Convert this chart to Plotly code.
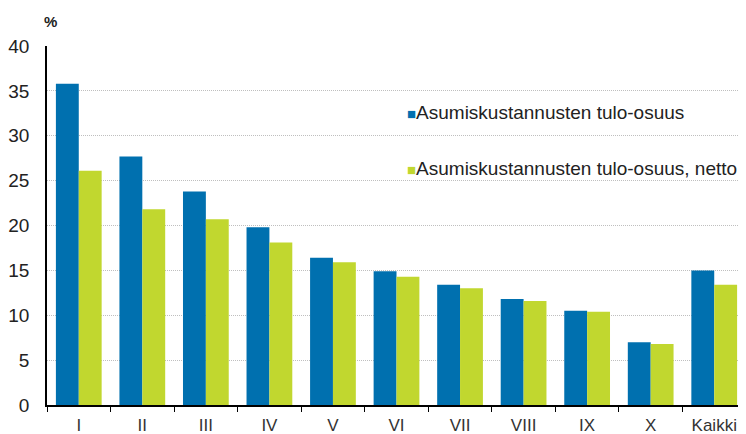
import plotly.graph_objects as go

categories = ["I", "II", "III", "IV", "V", "VI", "VII", "VIII", "IX", "X", "Kaikki"]
gross_share = [35.8, 27.7, 23.8, 19.8, 16.4, 14.9, 13.4, 11.8, 10.5, 7.0, 15.0]
net_share = [26.1, 21.8, 20.7, 18.1, 15.9, 14.3, 13.0, 11.6, 10.4, 6.8, 13.4]
series_names = ["Asumiskustannusten tulo-osuus", "Asumiskustannusten tulo-osuus, netto"]
y_ticks = [0, 5, 10, 15, 20, 25, 30, 35, 40]

BLUE = "#0070AF"
GREEN = "#C1D72F"
FONT = "Liberation Sans, Arial, sans-serif"

OFF = 8  # page body margin
W, H = 746 - OFF, 434 - OFF
L, R, T, B = 47 - OFF, 0, 46 - OFF, 29

fig = go.Figure()
fig.add_trace(go.Bar(x=categories, y=gross_share, name=series_names[0],
                     marker=dict(color=BLUE, line=dict(width=0)), showlegend=False))
fig.add_trace(go.Bar(x=categories, y=net_share, name=series_names[1],
                     marker=dict(color=GREEN, line=dict(width=0)), showlegend=False))

plot_w = W - L - R
plot_h = H - T - B
def px_to_paper(px, py):
    # px, py in screenshot pixels
    return (px - OFF - L) / plot_w, 1 - (py - OFF - T) / plot_h

ax, ay = px_to_paper(50, 22)
l1x, l1y = px_to_paper(405, 112)
l2x, l2y = px_to_paper(405, 169)

def legend_text(color, name):
    return f"<span style='color:{color};font-size:15px'>■</span>{name}"

fig.update_layout(
    width=W, height=H,
    margin=dict(l=L, r=R, t=T, b=B, autoexpand=False),
    paper_bgcolor="white", plot_bgcolor="white",
    barmode="group", bargap=0.28, bargroupgap=0,
    font=dict(family=FONT, color="#222222"),
    xaxis=dict(
        automargin=False,
        showline=True, linecolor="#000000", linewidth=1.5,
        ticks="outside", tickson="boundaries", ticklen=5, tickcolor="#000000",
        ticklabelstandoff=4,
        tickfont=dict(size=17, color="#333333"),
        showgrid=False,
    ),
    yaxis=dict(
        automargin=False,
        range=[0, 40], tickvals=y_ticks,
        showline=True, linecolor="#000000", linewidth=1.5,
        ticks="", ticklabelstandoff=12,
        tickfont=dict(size=19, color="#222222"),
        showgrid=True, gridcolor="#bfbfbf", griddash="1px,1px", gridwidth=1,
        zeroline=False,
    ),
    annotations=[
        dict(text="<b>%</b>", x=ax, y=ay, xref="paper", yref="paper",
             xanchor="center", yanchor="middle",
             showarrow=False, font=dict(size=15)),
        dict(text=legend_text(BLUE, series_names[0]),
             x=l1x, y=l1y, xref="paper", yref="paper", showarrow=False,
             xanchor="left", yanchor="middle",
             font=dict(size=19, color="#222222")),
        dict(text=legend_text(GREEN, series_names[1]),
             x=l2x, y=l2y, xref="paper", yref="paper", showarrow=False,
             xanchor="left", yanchor="middle",
             font=dict(size=19, color="#222222")),
    ],
)

fig.write_html("out.html")
